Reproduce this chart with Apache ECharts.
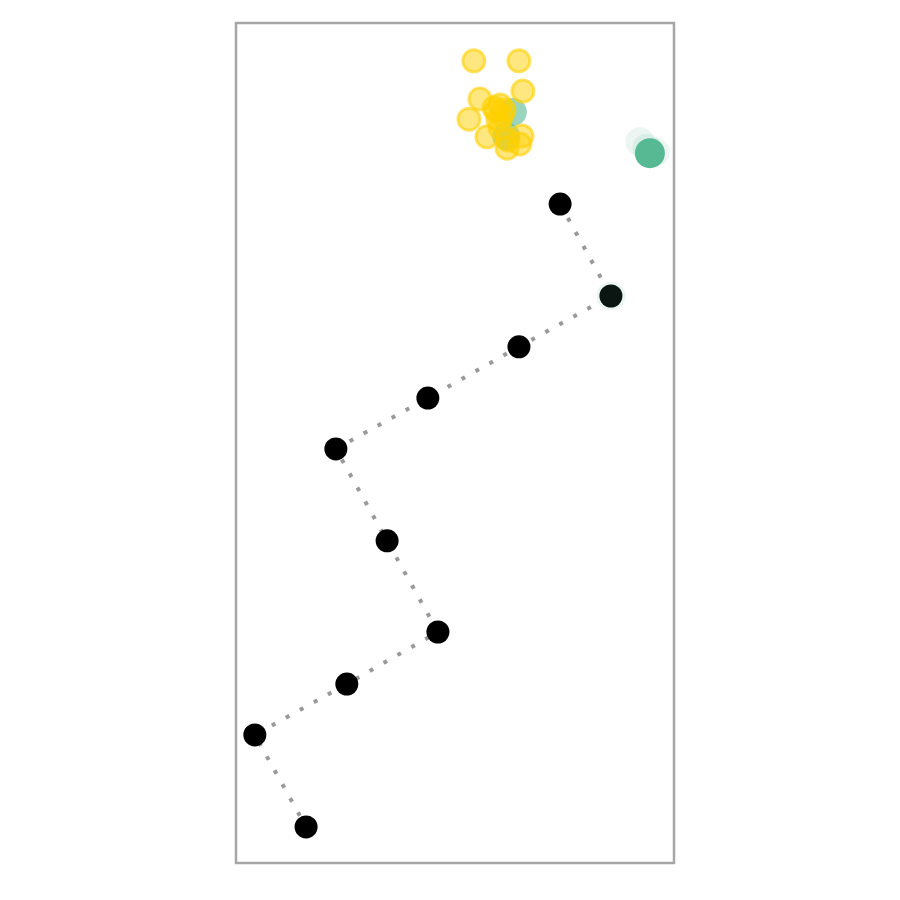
<!DOCTYPE html>
<html>
<head>
<meta charset="utf-8">
<script src="https://cdn.jsdelivr.net/npm/echarts@6/dist/echarts.min.js"></script>
<style>html,body{margin:0;padding:0;background:#fff}#c{width:900px;height:900px}</style>
</head>
<body>
<div id="c"></div>
<script>
// Path (black points), in order
const pathX = [7.40, 8.56, 6.46, 4.38, 2.28, 3.45, 4.61, 2.53, 0.43, 1.60];
const pathY = [15.69, 13.50, 12.29, 11.07, 9.86, 7.67, 5.50, 4.26, 3.05, 0.86];

// Yellow cluster
const yellowX = [5.43, 6.46, 6.55, 5.57, 5.32, 5.73, 6.19, 6.48, 6.53, 6.03, 5.94, 6.07, 5.98, 6.12, 5.89, 6.21, 6.03];
const yellowY = [19.10, 19.10, 18.38, 18.19, 17.71, 17.29, 17.02, 17.12, 17.31, 18.05, 17.90, 17.79, 17.69, 17.93, 17.98, 17.21, 17.50];

// Green points: solid, mid and faint trail
const greenX = [9.45];
const greenY = [16.90];
const greenMidX = [6.32, 6.17];
const greenMidY = [17.88, 17.30];
const greenFaintX = [9.22, 9.38, 9.57, 8.56];
const greenFaintY = [17.17, 17.02, 16.93, 13.50];

const zip = (xs, ys) => xs.map((x, i) => [x, ys[i]]);

const chart = echarts.init(document.getElementById('c'));
chart.setOption({
  animation: false,
  backgroundColor: '#fff',
  grid: { left: 236, top: 23, width: 438, height: 840, show: true, borderColor: '#a6a6a6', borderWidth: 2.5, backgroundColor: 'transparent' },
  xAxis: { type: 'value', min: 0, max: 10, show: false },
  yAxis: { type: 'value', min: 0, max: 20, show: false },
  series: [
    {
      type: 'line',
      data: zip(pathX, pathY),
      symbol: 'none',
      lineStyle: { color: '#999999', width: 4, type: [4, 12] },
      z: 1
    },
    {
      type: 'scatter',
      data: zip(pathX, pathY),
      symbolSize: 23,
      itemStyle: { color: '#000000', opacity: 1 },
      z: 2
    },
    {
      type: 'scatter',
      data: zip(greenFaintX, greenFaintY),
      symbolSize: 29,
      itemStyle: { color: 'rgba(87,184,148,0.12)', opacity: 1 },
      z: 3
    },
    {
      type: 'scatter',
      data: zip(greenMidX, greenMidY),
      symbolSize: 28,
      itemStyle: { color: 'rgba(87,184,148,0.6)', opacity: 1 },
      z: 3
    },
    {
      type: 'scatter',
      data: zip(greenX, greenY),
      symbolSize: 30,
      itemStyle: { color: '#57b894', opacity: 1 },
      z: 4
    },
    {
      type: 'scatter',
      data: zip(yellowX, yellowY),
      symbolSize: 22,
      itemStyle: { color: 'rgba(255,208,0,0.5)', borderColor: 'rgba(255,208,0,0.6)', borderWidth: 3, opacity: 1 },
      z: 5
    }
  ]
});
</script>
</body>
</html>
